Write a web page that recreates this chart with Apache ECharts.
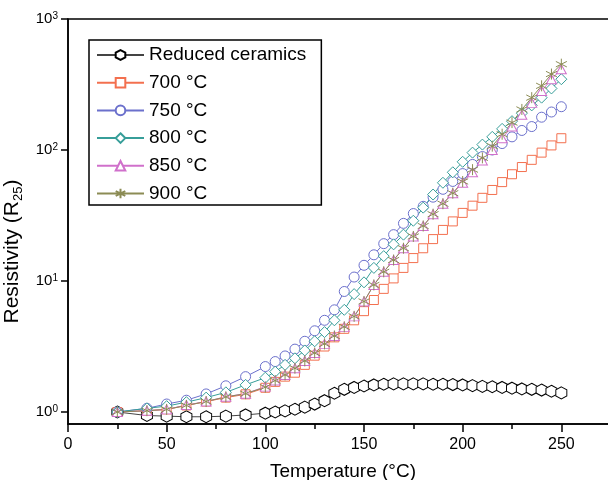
<!DOCTYPE html>
<html>
<head>
<meta charset="utf-8">
<script src="https://cdn.jsdelivr.net/npm/echarts@6/dist/echarts.min.js"></script>
<style>
  html, body { margin: 0; padding: 0; background: #fff; }
  #chart { width: 608px; height: 480px; }
</style>
</head>
<body>
<div id="chart"></div>
<script>
// temperature points (°C)
const temps = [25, 40, 50, 60, 70, 80, 90, 100, 105, 110, 115, 120, 125, 130, 135, 140, 145, 150, 155, 160,
  165, 170, 175, 180, 185, 190, 195, 200, 205, 210, 215, 220, 225, 230, 235, 240, 245, 250]

const seriesNames = ['Reduced ceramics', '700 °C', '750 °C', '800 °C', '850 °C', '900 °C']

// resistivity normalised to R25
const reduced = [1.0, 0.94, 0.93, 0.92, 0.92, 0.93, 0.95, 0.98, 1.0, 1.02, 1.05, 1.09, 1.15, 1.22, 1.39, 1.49, 1.54, 1.58, 1.61, 1.63,
  1.64, 1.64, 1.64, 1.64, 1.63, 1.63, 1.62, 1.61, 1.59, 1.57, 1.56, 1.54, 1.52, 1.50, 1.49, 1.47, 1.44, 1.40]
const r700 = [1.0, 1.023, 1.047, 1.122, 1.202, 1.288, 1.365, 1.531, 1.698, 1.862, 1.995, 2.291, 2.692, 3.162, 3.715, 4.315, 5.012, 5.888, 7.161, 8.71,
  10.47, 12.59, 14.96, 17.78, 20.89, 24.55, 28.51, 33.11, 37.58, 43.15, 49.55, 56.89, 65.31, 74.13, 84.14, 95.5, 108.4, 123]
const r750 = [1.0, 1.067, 1.151, 1.23, 1.374, 1.585, 1.862, 2.223, 2.427, 2.679, 3.02, 3.467, 4.169, 5.012, 6.026, 8.318, 10.72, 13.18, 15.85, 19.28,
  22.59, 27.54, 32.73, 37.15, 43.65, 50.12, 57.54, 66.07, 77.6, 89.1, 100, 112, 126, 141, 151, 178, 195, 214]
const r800 = [1.0, 1.067, 1.109, 1.189, 1.288, 1.413, 1.611, 1.828, 2.032, 2.291, 2.57, 2.951, 3.467, 4.074, 5.012, 6.026, 7.943, 9.77, 12.59, 15.49,
  19.05, 22.59, 28.84, 36.31, 45.71, 56.23, 67.6, 81.3, 95.5, 110, 126, 145, 166, 191, 219, 251, 295, 347]
const r850 = [1.0, 1.023, 1.047, 1.13, 1.202, 1.309, 1.38, 1.563, 1.738, 1.919, 2.158, 2.455, 2.818, 3.311, 3.802, 4.467, 5.37, 6.98, 9.33, 11.75,
  14.45, 17.78, 21.88, 26.3, 32.36, 38.9, 46.8, 56.2, 67.6, 83.2, 100, 123, 151, 186, 229, 282, 347, 414]
const r900 = [1.0, 1.023, 1.047, 1.122, 1.202, 1.303, 1.38, 1.549, 1.738, 1.919, 2.158, 2.455, 2.818, 3.311, 3.802, 4.467, 5.37, 6.98, 9.33, 11.75,
  14.45, 17.78, 21.88, 26.3, 32.36, 38.9, 46.8, 57.5, 70.8, 87.1, 107, 132, 162, 204, 251, 309, 380, 452]

const yTicks = [1, 10, 100, 1000]

const font = 'Liberation Sans, Arial, Helvetica, sans-serif'
const hexagon = 'path://M5,0L9.33,2.5L9.33,7.5L5,10L0.67,7.5L0.67,2.5Z'
const asterisk = 'path://M5,0L5,10M0.67,2.5L9.33,7.5M0.67,7.5L9.33,2.5'

const chart = echarts.init(document.getElementById('chart'))

const makeSeries = (name, values, color, lineColor, symbol, size) => ({
  name: name,
  type: 'line',
  data: temps.map((t, i) => [t, values[i]]),
  symbol: symbol,
  symbolSize: size,
  showAllSymbol: true,
  lineStyle: { color: lineColor, width: 1 },
  itemStyle: { color: '#fff', borderColor: color, borderWidth: 1 },
  emphasis: { disabled: true },
})

const options = {
  animation: false,
  backgroundColor: '#fff',
  // plot runs past the right edge of the picture, like the cropped original
  grid: {
    left: 68, top: 19, width: 592, height: 405,
    outerBoundsMode: 'none',
    show: true, borderColor: '#000', borderWidth: 1.5,
  },
  legend: {
    orient: 'vertical',
    left: 89, top: 40,
    itemWidth: 47, itemHeight: 12, itemGap: 8.7,
    padding: [5.5, 15, 2, 7],
    borderColor: '#000', borderWidth: 1.5,
    textStyle: { fontSize: 19, color: '#000', fontFamily: font },
    data: seriesNames,
  },
  xAxis: {
    type: 'value', min: 0, max: 300, interval: 50,
    axisLine: { onZero: false, lineStyle: { color: '#000', width: 1.5 } },
    axisTick: { length: 8, lineStyle: { color: '#000', width: 1.5 } },
    minorTick: { show: true, splitNumber: 2, length: 5, lineStyle: { color: '#000', width: 1.5 } },
    axisLabel: { fontSize: 16, color: '#000', fontFamily: font, margin: 13, showMaxLabel: false },
    splitLine: { show: false },
    name: 'Temperature (°C)', nameLocation: 'middle', nameGap: 38,
    nameTextStyle: { fontSize: 19, color: '#000', fontFamily: font, padding: [0, 42, 0, 0] },
  },
  yAxis: {
    type: 'log', logBase: 10, min: 0.81, max: 1000,
    axisLine: { show: true, lineStyle: { color: '#000', width: 1.5 } },
    axisTick: { show: true, length: 7, customValues: yTicks, lineStyle: { color: '#000', width: 1.5 } },
    axisLabel: {
      customValues: yTicks,
      margin: 10,
      color: '#000', fontSize: 15, fontFamily: font,
      formatter: (v) => '10{s|' + Math.round(Math.log10(v)) + '}',
      rich: { s: { fontSize: 10, fontFamily: font, color: '#000', verticalAlign: 'top', lineHeight: 10 } },
    },
    splitLine: { show: false },
    name: 'Resistivity (R{sub|25})', nameLocation: 'middle', nameGap: 38,
    nameTextStyle: {
      fontSize: 21, color: '#000', fontFamily: font, padding: [0, 60, 0, 0],
      rich: { sub: { fontSize: 13, fontFamily: font, color: '#000', verticalAlign: 'bottom', padding: [12, 0, 0, 0] } },
    },
  },
  series: [
    makeSeries(seriesNames[0], reduced, '#000', '#444', hexagon, [11, 12]),
    makeSeries(seriesNames[1], r700, '#F3704F', '#F3704F', 'rect', 9),
    makeSeries(seriesNames[2], r750, '#6B70CC', '#6B70CC', 'circle', 10),
    makeSeries(seriesNames[3], r800, '#379E99', '#379E99', 'diamond', [11, 11]),
    makeSeries(seriesNames[4], r850, '#D070CB', '#D070CB', 'triangle', [10, 9]),
    makeSeries(seriesNames[5], r900, '#8C8C55', '#8C8C55', asterisk, 11),
  ],
}

chart.setOption(options, true)
</script>
</body>
</html>
